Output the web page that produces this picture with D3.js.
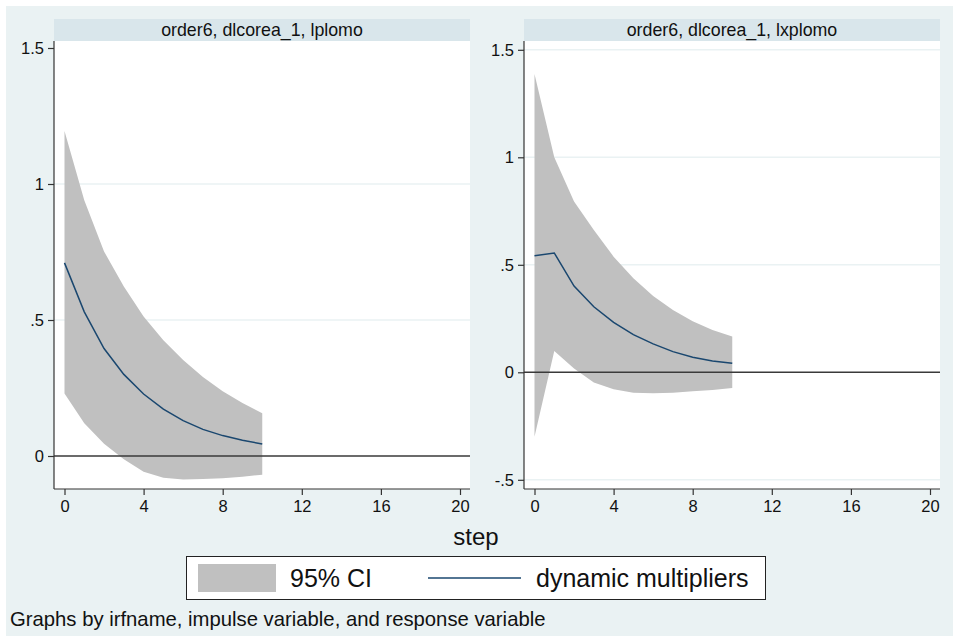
<!DOCTYPE html>
<html>
<head>
<meta charset="utf-8">
<script src="https://cdn.jsdelivr.net/npm/d3@7"></script>
<style>
  body { margin: 0; background: #fff; }
  svg { display: block; font-family: "Liberation Sans", Arial, sans-serif; }
</style>
</head>
<body>
<div id="chart"></div>
<script>
// steps of the impulse response
const steps = [0, 1, 2, 3, 4, 5, 6, 7, 8, 9, 10];

// panel 1: order6, dlcorea_1, lplomo
const leftIrf = [0.71, 0.53, 0.395, 0.30, 0.228, 0.172, 0.130, 0.098, 0.075, 0.058, 0.044];
const leftLo  = [0.23, 0.12, 0.045, -0.012, -0.058, -0.080, -0.086, -0.085, -0.082, -0.076, -0.069];
const leftHi  = [1.195, 0.94, 0.752, 0.623, 0.513, 0.426, 0.353, 0.290, 0.238, 0.195, 0.157];

// panel 2: order6, dlcorea_1, lxplomo
const rightIrf = [0.542, 0.555, 0.401, 0.305, 0.232, 0.175, 0.132, 0.096, 0.070, 0.053, 0.042];
const rightLo  = [-0.30, 0.099, 0.018, -0.048, -0.079, -0.095, -0.098, -0.095, -0.088, -0.082, -0.073];
const rightHi  = [1.387, 1.0, 0.794, 0.662, 0.538, 0.437, 0.355, 0.290, 0.237, 0.197, 0.166];

const xTicks = [0, 4, 8, 12, 16, 20];
const leftYTicks = [0, 0.5, 1, 1.5];
const rightYTicks = [-0.5, 0, 0.5, 1, 1.5];
const fmt = v => v === 0 ? "0" : String(v).replace(/^(-?)0\./, "$1.");

const W = 953, H = 636;
const bg = "#eaf2f3", strip = "#d9e6eb", ciFill = "#c0c0c0", navy = "#1a476f";

const svg = d3.select("#chart").append("svg").attr("width", W).attr("height", H);
svg.append("rect").attr("x", 6).attr("y", 6).attr("width", W - 6).attr("height", H - 6).attr("fill", bg);

const panels = [
  { title: "order6, dlcorea_1, lplomo", x0: 54, x1: 470, irf: leftIrf, lo: leftLo, hi: leftHi,
    yTicks: leftYTicks, yDom: [0, 1.5], yRange: [456, 48], grid: [0.5, 1] },
  { title: "order6, dlcorea_1, lxplomo", x0: 524, x1: 940, irf: rightIrf, lo: rightLo, hi: rightHi,
    yTicks: rightYTicks, yDom: [-0.5, 1.5], yRange: [479.8, 49.8], grid: [-0.5, 0.5, 1, 1.5] }
];
const plotTop = 41, plotBottom = 489;

panels.forEach(p => {
  const g = svg.append("g");
  const x = d3.scaleLinear().domain([0, 20]).range([p.x0 + 10.5, p.x1 - 10]);
  const y = d3.scaleLinear().domain(p.yDom).range(p.yRange);

  // strip title
  g.append("rect").attr("x", p.x0).attr("y", 19).attr("width", p.x1 - p.x0).attr("height", plotTop - 19).attr("fill", strip);
  g.append("text").attr("x", (p.x0 + p.x1) / 2).attr("y", 36).attr("text-anchor", "middle")
    .attr("font-size", 17.8).attr("fill", "#111").text(p.title);

  // plot region
  g.append("rect").attr("x", p.x0).attr("y", plotTop).attr("width", p.x1 - p.x0).attr("height", plotBottom - plotTop).attr("fill", "#fff");

  // gridlines
  g.selectAll(".grid").data(p.grid).enter().append("line")
    .attr("x1", p.x0).attr("x2", p.x1).attr("y1", d => y(d)).attr("y2", d => y(d))
    .attr("stroke", bg).attr("stroke-width", 1.5);

  // CI band
  const rows = steps.map((s, i) => ({ s, lo: p.lo[i], hi: p.hi[i], v: p.irf[i] }));
  g.append("path").datum(rows)
    .attr("d", d3.area().x(d => x(d.s)).y0(d => y(d.lo)).y1(d => y(d.hi)))
    .attr("fill", ciFill);

  // zero line
  g.append("line").attr("x1", p.x0).attr("x2", p.x1).attr("y1", y(0)).attr("y2", y(0))
    .attr("stroke", "#3a3a3a").attr("stroke-width", 1.5);

  // irf line
  g.append("path").datum(rows)
    .attr("d", d3.line().x(d => x(d.s)).y(d => y(d.v)))
    .attr("fill", "none").attr("stroke", navy).attr("stroke-width", 1.5);

  // axes
  const yAxis = g.append("g").attr("transform", `translate(${p.x0},0)`)
    .call(d3.axisLeft(y).tickValues(p.yTicks).tickFormat(fmt).tickSize(6).tickPadding(4));
  yAxis.select(".domain").attr("d", `M0,${plotTop}V${plotBottom}`);
  const xAxis = g.append("g").attr("transform", `translate(0,${plotBottom})`)
    .call(d3.axisBottom(x).tickValues(xTicks).tickSize(6).tickPadding(5));
  xAxis.select(".domain").attr("d", `M${p.x0},0H${p.x1}`);
  [yAxis, xAxis].forEach(a => {
    a.selectAll("path, line").attr("stroke", "#333").attr("stroke-width", 1.2);
    a.selectAll("text").attr("font-size", 16.5).attr("fill", "#111")
      .attr("font-family", '"Liberation Sans", Arial, sans-serif');
  });
});

// x title
svg.append("text").attr("x", 476).attr("y", 545).attr("text-anchor", "middle")
  .attr("font-size", 24).attr("fill", "#111").text("step");

// legend
const leg = svg.append("g");
leg.append("rect").attr("x", 186.5).attr("y", 556.5).attr("width", 579).attr("height", 43)
  .attr("fill", "#fff").attr("stroke", "#222").attr("stroke-width", 1);
leg.append("rect").attr("x", 198).attr("y", 564).attr("width", 78).attr("height", 28).attr("fill", ciFill);
leg.append("text").attr("x", 290).attr("y", 587).attr("font-size", 25).attr("fill", "#111").text("95% CI");
leg.append("line").attr("x1", 428).attr("x2", 521).attr("y1", 578).attr("y2", 578)
  .attr("stroke", navy).attr("stroke-width", 1.5);
leg.append("text").attr("x", 536).attr("y", 587).attr("font-size", 25).attr("fill", "#111").text("dynamic multipliers");

// note
svg.append("text").attr("x", 10).attr("y", 626).attr("font-size", 20.3).attr("fill", "#111")
  .text("Graphs by irfname, impulse variable, and response variable");
</script>
</body>
</html>
